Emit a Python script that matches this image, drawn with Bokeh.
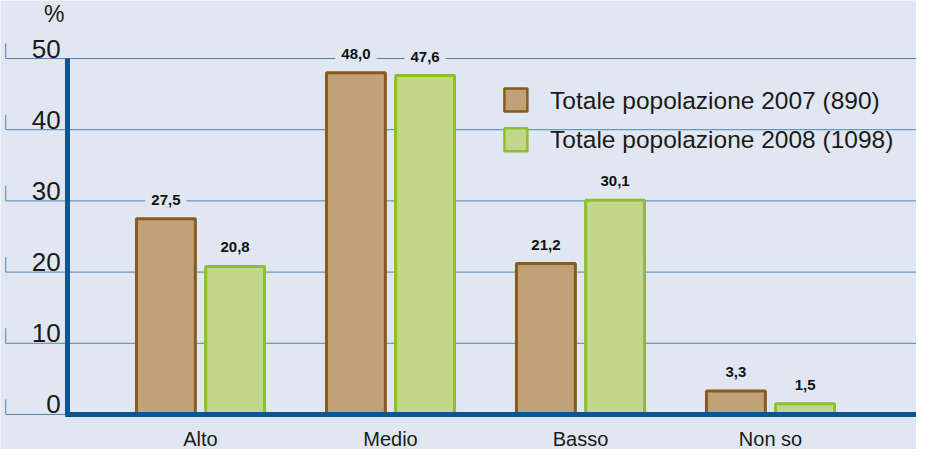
from bokeh.plotting import figure
from bokeh.models import Range1d, ColumnDataSource
from bokeh.core.properties import value
from bokeh.embed import file_html
from bokeh.resources import INLINE

# ---- data ----
categories = ["Alto", "Medio", "Basso", "Non so"]
vals_2007 = [27.5, 48.0, 21.2, 3.3]
vals_2008 = [20.8, 47.6, 30.1, 1.5]
labels_2007 = ["27,5", "48,0", "21,2", "3,3"]
labels_2008 = ["20,8", "47,6", "30,1", "1,5"]
series_names = ["Totale popolazione 2007 (890)", "Totale popolazione 2008 (1098)"]
y_ticks = [0, 10, 20, 30, 40, 50]
y_tick_labels = ["0", "10", "20", "30", "40", "50"]

# ---- style ----
BG = "#e1e7f2"
BROWN_FILL = "#c1a178"
BROWN_LINE = "#8a5a1c"
GREEN_FILL = "#c3d78a"
GREEN_LINE = "#8dbf2a"
AXIS = "#0b5590"
GRID = "#4d84b5"
FONT = value("Liberation Sans")
NARROW = value("Liberation Sans Narrow, Liberation Sans")

W, H = 916, 449
p = figure(width=W, height=H, output_backend="svg", toolbar_location=None,
           x_range=Range1d(-1.0526, 3.7684), y_range=Range1d(-4.92, 58.15),
           min_border=0, min_border_left=0, min_border_right=0,
           min_border_top=0, min_border_bottom=0)
p.axis.visible = False
p.grid.visible = False
p.outline_line_color = None
p.background_fill_color = BG
p.border_fill_color = BG

x_left_tick = -1.025
x_right = 3.8
px_y = H / (58.15 + 4.92)

# gridlines and small left ticks
p.segment(x0=[x_left_tick] * len(y_ticks), y0=y_ticks, x1=[x_right] * len(y_ticks), y1=y_ticks,
          line_color=GRID, line_width=1)
p.segment(x0=[x_left_tick] * len(y_ticks), y0=y_ticks,
          x1=[x_left_tick] * len(y_ticks), y1=[t + 15 / px_y for t in y_ticks],
          line_color=GRID, line_width=1)
p.text(x=[-0.736] * len(y_ticks), y=y_ticks, text=y_tick_labels, text_align="right",
       text_baseline="bottom", y_offset=-1, text_font=FONT, text_font_size="26px",
       text_color="#1a1a1a")
p.text(x=[-0.77], y=[56.2], text=["%"], text_align="center", text_baseline="middle",
       text_font=FONT, text_font_size="23px", text_color="#1a1a1a")

# bars
idx = list(range(len(categories)))
off = 0.182
bw = 0.31
src = ColumnDataSource(dict(
    x1=[i - off for i in idx], x2=[i + off for i in idx],
    v1=vals_2007, v2=vals_2008, l1=labels_2007, l2=labels_2008))
p.vbar(x="x1", top="v1", bottom=0, width=bw, source=src,
       fill_color=BROWN_FILL, line_color=BROWN_LINE, line_width=3)
p.vbar(x="x2", top="v2", bottom=0, width=bw, source=src,
       fill_color=GREEN_FILL, line_color=GREEN_LINE, line_width=3)

# value labels
for xs, vs, ls in (("x1", "v1", "l1"), ("x2", "v2", "l2")):
    p.text(x=xs, y=vs, text=ls, source=src, text_align="center", text_baseline="bottom",
           y_offset=-8, text_font=NARROW, text_font_style="bold", text_font_size="15px",
           text_color="#111111", background_fill_color=BG, padding=6)

# axes lines
p.segment(x0=[-0.70], y0=[0], x1=[-0.70], y1=[50], line_color=AXIS, line_width=5)
p.segment(x0=[-0.712], y0=[0], x1=[x_right], y1=[0], line_color=AXIS, line_width=5)

# category labels
p.text(x=idx, y=[-3.4] * len(idx), text=categories, text_align="center",
       text_baseline="middle", text_font=FONT, text_font_size="20px", text_color="#1a1a1a")

# legend
p.scatter(x=[1.66, 1.66], y=[44.17, 38.6], marker="square", size=23,
          fill_color=[BROWN_FILL, GREEN_FILL], line_color=[BROWN_LINE, GREEN_LINE], line_width=2.5)
p.text(x=[1.84, 1.84], y=[44.17, 38.6], text=series_names, text_align="left",
       text_baseline="middle", text_font=FONT, text_font_size="24.5px", text_color="#1a1a1a")

open("out.html", "w").write(file_html(p, INLINE))
